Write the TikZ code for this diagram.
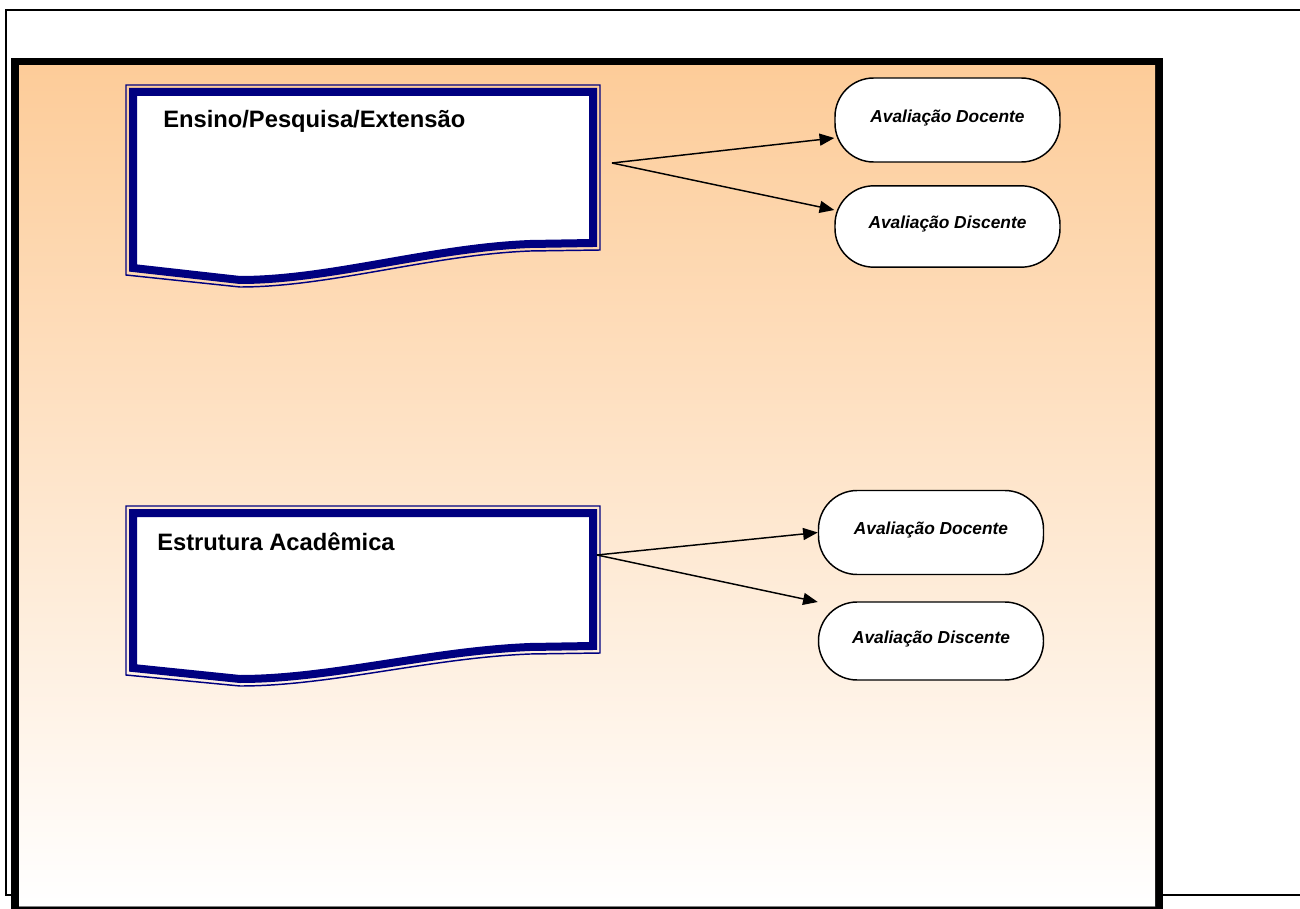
\documentclass[tikz,border=0pt]{standalone}
\usepackage{fontspec}
\setmainfont{Liberation Sans}
\usetikzlibrary{arrows.meta,calc}
\definecolor{peach}{RGB}{253,204,153}
\definecolor{docnavy}{RGB}{0,0,128}
\tikzset{
  doctitle/.style={anchor=base west,inner sep=0pt,font=\fontsize{17.8}{20}\selectfont\bfseries},
  evalbox/.style={draw,line width=1.1pt,fill=white,rounded corners=29pt,inner sep=0pt,
    minimum width=168.75pt,font=\fontsize{13}{15}\selectfont\bfseries\itshape},
  docband/.style={draw=docnavy,line width=6pt,fill=white},
  docline/.style={draw=docnavy,line width=1.1pt},
  link/.style={-{Triangle[length=11pt,width=9pt]},line width=1.1pt}
}
\begin{document}
\begin{tikzpicture}[x=0.75pt,y=-0.75pt]
  \useasboundingbox (0,0) rectangle (1300,909);
  % frames
  \draw[line width=1.5pt] (6,10) rectangle (1304,895);
  \fill (11,58) rectangle (1163,912);
  \shade[top color=peach,bottom color=white] (19,66) rectangle (1155,906);
  \draw[gray,line width=1pt] (19,906.5) -- (1155,906.5);
  % first document
  \draw[docline] (600,250) -- (530,251) .. controls (430,255) and (330,287) .. (240,287)
    -- (126,275) -- (126,85) -- (600,85) -- cycle;
  \draw[docband] (593,243) -- (530,244) .. controls (430,248) and (330,280) .. (240,280)
    -- (133,268) -- (133,92) -- (593,92) -- cycle;
  \node[doctitle] (ensino) at (163,128) {Ensino/Pesquisa/Extensão};
  % second document
  \draw[docline] (600,653) -- (530,654) .. controls (430,658) and (330,686) .. (240,686)
    -- (126,675) -- (126,506) -- (600,506) -- cycle;
  \draw[docband] (593,646) -- (530,647) .. controls (430,651) and (330,679) .. (240,679)
    -- (133,668) -- (133,513) -- (593,513) -- cycle;
  \node[doctitle] (estrutura) at (157,550) {Estrutura Acadêmica};
  % evaluations
  \node[evalbox,minimum height=63pt] (docente1) at (947.5,120) {\raisebox{6pt}{Avaliação Docente}};
  \node[evalbox,minimum height=61pt] (discente1) at (947.5,226.5) {\raisebox{6pt}{Avaliação Discente}};
  \node[evalbox,minimum height=63pt] (docente2) at (931,532.5) {\raisebox{6pt}{Avaliação Docente}};
  \node[evalbox,minimum height=58.5pt] (discente2) at (931,641) {\raisebox{6pt}{Avaliação Discente}};
  % links
  \coordinate (fork1) at (612,163);
  \coordinate (fork2) at (597,555);
  \draw[link] (fork1) -- ($(docente1.west)+(0,18)$);
  \draw[link] (fork1) -- ($(discente1.west)+(0,-16.5)$);
  \draw[link] (fork2) -- (docente2.west);
  \draw[link] (fork2) -- ($(discente2.west)+(0,-39)$);
\end{tikzpicture}
\end{document}
